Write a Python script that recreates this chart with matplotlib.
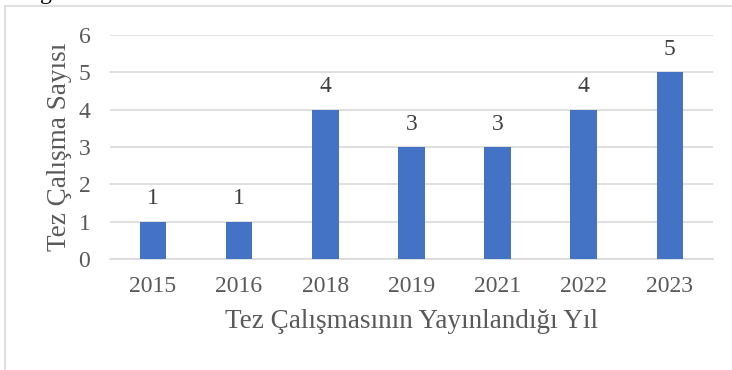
import matplotlib.pyplot as plt
from matplotlib.patches import Rectangle

# yıllara göre tez sayıları
yillar = ['2015', '2016', '2018', '2019', '2021', '2022', '2023']
tez_sayisi = [1, 1, 4, 3, 3, 4, 5]

plt.rcParams['font.family'] = ['Liberation Serif', 'DejaVu Serif']

fig = plt.figure(figsize=(7.32, 3.70), dpi=100)
ax = fig.add_axes([0.150, 0.300, 0.824, 0.605])

# grafik çerçevesi (sağ ve alt kenar kesik)
fig.patches.append(Rectangle((5 / 732, -0.1), 1.2, 1 - 6 / 370 + 0.1,
                             transform=fig.transFigure, fill=False,
                             edgecolor='#d9d9d9', linewidth=1.2))
# üstteki başlıktan kalan parça
fig.text(0.063, 1 + 1 / 370, 'g', fontsize=17, color='black', ha='center', va='baseline')

x = range(len(yillar))
bars = ax.bar(x, tez_sayisi, width=0.31, color='#4472C4', zorder=3)
for b, v in zip(bars, tez_sayisi):
    ax.text(b.get_x() + b.get_width() / 2, v + 0.33, str(v), ha='center', va='bottom',
            fontsize=17, color='#404040')

ax.set_xlim(-0.5, len(yillar) - 0.5)
ax.set_ylim(0, 6)
ax.set_yticks(range(0, 7))
ax.set_xticks(list(x))
ax.set_xticklabels(yillar)
ax.yaxis.grid(True, color='#d9d9d9', linewidth=1.2, zorder=0)
for s in ['top', 'right', 'left']:
    ax.spines[s].set_visible(False)
ax.spines['bottom'].set_color('#d9d9d9')
ax.spines['bottom'].set_linewidth(1.2)
ax.tick_params(axis='both', length=0, labelsize=17, labelcolor='#595959')
ax.tick_params(axis='y', pad=14)
ax.tick_params(axis='x', pad=12)

ax.set_xlabel('Tez Çalışmasının Yayınlandığı Yıl', fontsize=19.5, color='#595959', labelpad=9)
ax.set_ylabel('Tez Çalışma Sayısı', fontsize=19.5, color='#595959', labelpad=5)

fig.savefig('out.png', dpi=100)
